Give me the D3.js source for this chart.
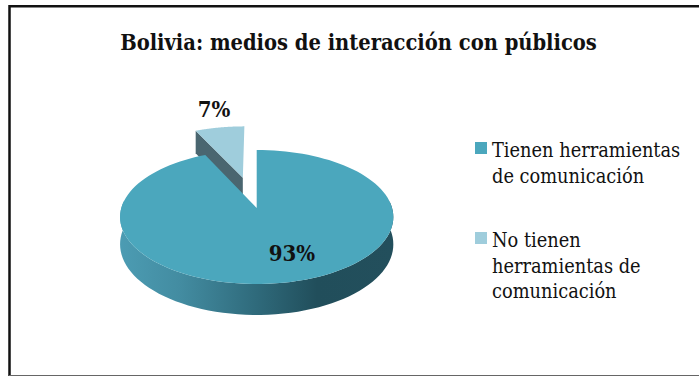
<!DOCTYPE html>
<html>
<head>
<meta charset="utf-8">
<script src="https://cdn.jsdelivr.net/npm/d3@7"></script>
<style>
html, body { margin: 0; padding: 0; background: #fff; }
svg { display: block; }
text { font-family: "DejaVu Serif Condensed", "DejaVu Serif", serif; font-stretch: condensed; fill: #111; }
</style>
</head>
<body>
<svg id="chart" width="699" height="376"></svg>
<script>
const titleText = "Bolivia: medios de interacción con públicos";
const categories = ["Tienen herramientas de comunicación", "No tienen herramientas de comunicación"];
const values = [93, 7];
const valueLabels = ["93%", "7%"];
const legendLines = [["Tienen herramientas", "de comunicación"], ["No tienen", "herramientas de", "comunicación"]];
const sliceColors = ["#4ba7bd", "#9fcddc"];
const cutColors = ["#2f6b7b", "#4a6670"];

const svg = d3.select("#chart");
const width = 699, height = 376;

const color = d3.scaleOrdinal().domain(categories).range(sliceColors);
const cutColor = d3.scaleOrdinal().domain(categories).range(cutColors);

// perspective projection of the pie plane, u to the right, v away from the viewer
const view = { x: 256.7, y: 208, rx: 135.4, ry: 65.8, k: 0.134, depth: 26.8 };

function project(u, v, down) {
    const s = 1 + view.k * v;
    return [view.x + view.rx * u / s, view.y - view.ry * v / s + (down ? view.depth / s : 0)];
}

const pie = d3.pie().sort(null).value(d => d.value);
const slices = pie(categories.map((c, i) => ({ category: c, value: values[i], label: valueLabels[i] })));

// the small slice is pulled out along its bisector
const explode = 0.5;
slices.forEach(function (d) {
    d.offset = d.data.value < 50
        ? [explode * Math.sin((d.startAngle + d.endAngle) / 2), explode * Math.cos((d.startAngle + d.endAngle) / 2)]
        : [0, 0];
});

// angles run clockwise from 12 o'clock, same as d3.pie
function rimPoints(d, down) {
    return d3.range(0, 121).map(function (i) {
        const a = d.startAngle + (d.endAngle - d.startAngle) * i / 120;
        return project(d.offset[0] + Math.sin(a), d.offset[1] + Math.cos(a), down);
    });
}
function apex(d, down) { return project(d.offset[0], d.offset[1], down); }

const line = d3.line();

const defs = svg.append("defs");
const wall = defs.append("linearGradient").attr("id", "wall")
    .attr("gradientUnits", "userSpaceOnUse")
    .attr("x1", view.x - 137).attr("x2", view.x + 137).attr("y1", 0).attr("y2", 0);
[[0, "#4c9cb3"], [0.22, "#438ca1"], [0.5, "#2f6a7b"], [0.72, "#214e5b"], [1, "#234f5c"]].forEach(function (s) {
    wall.append("stop").attr("offset", s[0]).attr("stop-color", s[1]);
});

// frame, only left, top and bottom show in the picture
svg.append("path")
    .attr("d", line([[9.5, 376], [9.5, 6.3], [width, 6.3]]))
    .attr("fill", "none").attr("stroke", "#111").attr("stroke-width", 2.5);
svg.append("line")
    .attr("x1", 9).attr("x2", width).attr("y1", 375.5).attr("y2", 375.5)
    .attr("stroke", "#666").attr("stroke-width", 1);

const small = slices[1], big = slices[0];

// small slice first, the big one covers its foot
const cutEdge = [apex(small), rimPoints(small)[0], rimPoints(small, true)[0], apex(small, true)];
svg.append("path").attr("d", line(cutEdge) + "Z").attr("fill", cutColor(small.data.category));
svg.append("path")
    .attr("d", line([apex(small)].concat(rimPoints(small))) + "Z")
    .attr("fill", color(small.data.category));

// outer wall of the big slice: only the part that faces the viewer
const frontTop = rimPoints(big).filter((p, i) => {
    const a = big.startAngle + (big.endAngle - big.startAngle) * i / 120;
    return Math.cos(a) < 0.14;
});
const frontDown = rimPoints(big, true).filter((p, i) => {
    const a = big.startAngle + (big.endAngle - big.startAngle) * i / 120;
    return Math.cos(a) < 0.14;
});
svg.append("path")
    .attr("d", line(frontTop.concat(frontDown.reverse())) + "Z")
    .attr("fill", "url(#wall)");
svg.append("path")
    .attr("d", line([apex(big)].concat(rimPoints(big))) + "Z")
    .attr("fill", color(big.data.category));

// value labels
const labelPos = [[292, 261], [214, 117]];
svg.selectAll("text.value")
    .data(slices)
    .enter()
    .append("text")
    .attr("class", "value")
    .attr("x", (d, i) => labelPos[i][0])
    .attr("y", (d, i) => labelPos[i][1])
    .attr("text-anchor", "middle")
    .attr("font-size", 22)
    .attr("font-weight", "bold")
    .text(d => d.data.label);

svg.append("text")
    .attr("x", 358.5).attr("y", 50)
    .attr("text-anchor", "middle")
    .attr("font-size", 21.7)
    .attr("font-weight", "bold")
    .text(titleText);

// legend
const legendSpot = [[475, 142, 157], [475, 232, 247]];
const legend = svg.selectAll("g.legend")
    .data(categories)
    .enter()
    .append("g")
    .attr("class", "legend");
legend.append("rect")
    .attr("x", (d, i) => legendSpot[i][0])
    .attr("y", (d, i) => legendSpot[i][1])
    .attr("width", 12).attr("height", 12)
    .attr("fill", d => color(d));
legend.each(function (d, i) {
    d3.select(this).selectAll("text")
        .data(legendLines[i])
        .enter()
        .append("text")
        .attr("x", 492)
        .attr("y", (t, j) => legendSpot[i][2] + j * 25.7)
        .attr("font-size", 19.8)
        .text(t => t);
});
</script>
</body>
</html>
